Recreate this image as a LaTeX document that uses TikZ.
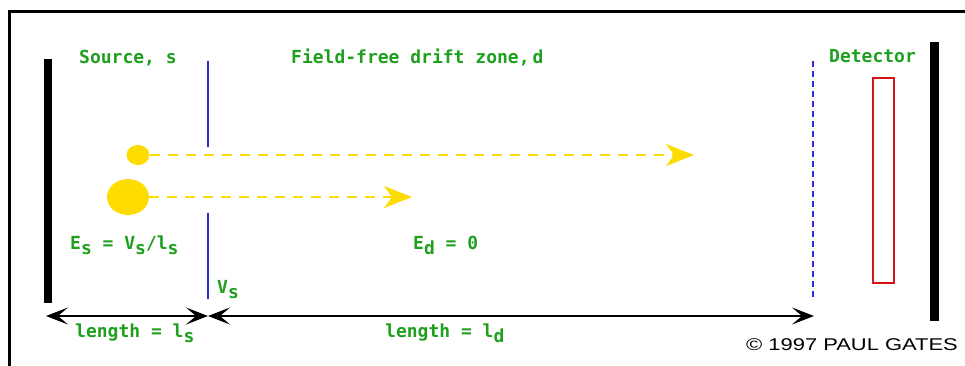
\documentclass[tikz,border=0pt]{standalone}
\usepackage{fontspec}
\setmonofont{DejaVu Sans Mono}
\newfontfamily\copyfont{Liberation Sans}
\usetikzlibrary{arrows.meta,shapes.geometric}
\definecolor{lblgreen}{RGB}{30,160,30}
\definecolor{ionyellow}{RGB}{255,220,0}
\definecolor{gridblue}{RGB}{40,40,225}
\definecolor{detred}{RGB}{215,20,20}
\newcommand\lowsub[1]{\raisebox{-5pt}{#1}}
\begin{document}
\begin{tikzpicture}[x=1pt,y=-1pt,
  lbl/.style={text=lblgreen, font=\ttfamily\fontsize{18}{18}\selectfont, anchor=base west, inner sep=0pt},
  plate/.style={fill=black, draw=none},
  grid/.style={draw=gridblue, line width=2pt},
  gridd/.style={draw=gridblue, line width=2pt, dash pattern=on 6pt off 4pt},
  ion/.style={ellipse, fill=ionyellow, draw=none, inner sep=0pt},
  flight/.style={draw=ionyellow, line width=2pt, dash pattern=on 10pt off 8pt,
    -{Stealth[length=28pt,width=22pt,inset=8pt,fill=ionyellow]}},
  dimarrow/.style={draw=black, line width=1.5pt,
    {Stealth[length=22pt,width=17pt,inset=10pt]}-{Stealth[length=22pt,width=17pt,inset=10pt]}}]
\useasboundingbox (0,0) rectangle (965,365);
\fill[white] (0,0) rectangle (965,365);
% outer frame
\draw[line width=3pt] (9,366) -- (9,11) -- (966,11);
% plates
\fill[plate] (44,59) rectangle (52,303);
\fill[plate] (930,42) rectangle (939,321);
% source grid
\draw[grid] (208,61) -- (208,147);
\draw[grid] (208,213) -- (208,299);
% detector grid
\draw[gridd] (813,61) -- (813,300);
% detector
\draw[detred, line width=1.5pt] (873,78) rectangle (894,283);
% ions
\node[ion, minimum width=23pt, minimum height=20pt] (ionS) at (138,155) {};
\node[ion, minimum width=42pt, minimum height=36pt] (ionL) at (128,197) {};
\coordinate (tipS) at (694,155);
\coordinate (tipL) at (412,197);
\draw[flight] (ionS.east) -- (tipS);
\draw[flight] (ionL.east) -- (tipL);
% dimensions
\coordinate (dl) at (46,316);
\coordinate (dm) at (208,316);
\coordinate (dr) at (814,316);
\draw[dimarrow] (dl) -- (dm);
\draw[dimarrow] (dm) -- (dr);
% labels
\node[lbl] (src) at (79,63) {\bfseries Source, s};
\node[lbl] (ffd) at (291,63) {\bfseries Field-free drift zone,\,d};
\node[lbl] (det) at (829,62) {\bfseries Detector};
\node[lbl] (es) at (70,249) {\bfseries E\lowsub{s} = V\lowsub{s}/l\lowsub{s}};
\node[lbl] (vs) at (217,293) {\bfseries V\lowsub{s}};
\node[lbl] (ed) at (413,249) {\bfseries E\lowsub{d} = 0};
\node[lbl] (ls) at (75,337) {\bfseries length = l\lowsub{s}};
\node[lbl] (ld) at (385,337) {\bfseries length = l\lowsub{d}};
\node[anchor=base east, inner sep=0pt, font=\copyfont\fontsize{17}{17}\selectfont] (cp) at (958,350) {\scalebox{1.29}[1]{\textcopyright\ 1997 PAUL GATES}};
\end{tikzpicture}
\end{document}
